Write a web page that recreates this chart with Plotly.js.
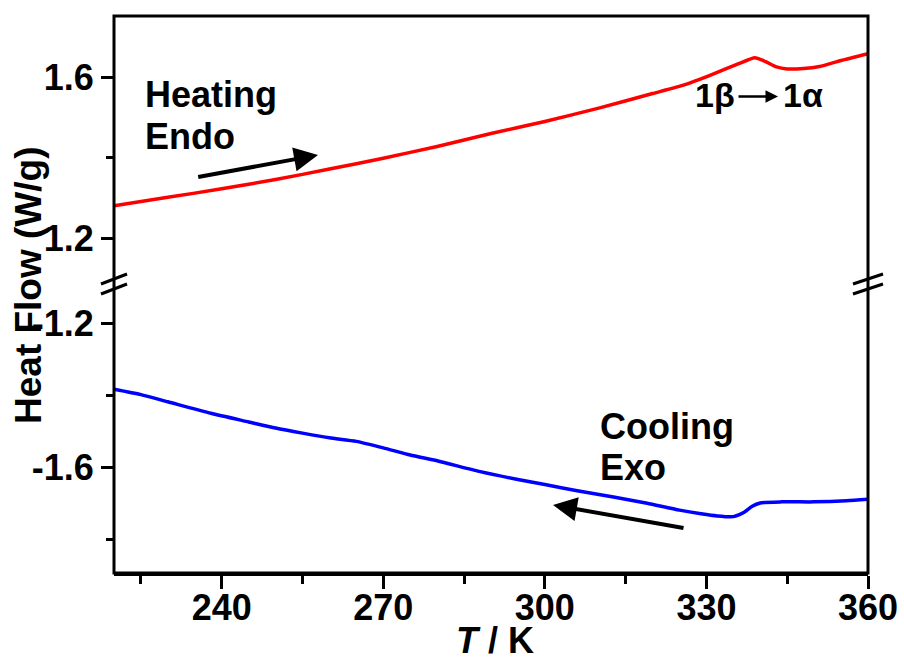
<!DOCTYPE html>
<html>
<head>
<meta charset="utf-8">
<script src="https://cdn.plot.ly/plotly-3.0.1.min.js"></script>
<style>html,body{margin:0;padding:0;background:#fff;}#chart{width:904px;height:661px;}</style>
</head>
<body>
<div id="chart"></div>
<script>
// Heating (top panel, red)
const heatT = [220, 230, 240, 250, 260, 270, 280, 290, 300, 310, 320, 326, 331, 336, 339, 341, 343, 345, 348, 351, 355, 360];
const heatFlow = [1.281, 1.302, 1.323, 1.346, 1.372, 1.399, 1.428, 1.460, 1.490, 1.523, 1.559, 1.581, 1.606, 1.633, 1.648, 1.638, 1.625, 1.620, 1.621, 1.626, 1.641, 1.658];
// Cooling (bottom panel, blue)
const coolT = [220, 225, 230, 238, 245, 250, 255, 260, 265, 270, 275, 280, 288, 295, 300, 306, 313, 319, 325, 329, 332, 335, 337, 338.5, 340, 344, 350, 356, 360];
const coolFlow = [-1.383, -1.398, -1.418, -1.450, -1.474, -1.491, -1.505, -1.518, -1.528, -1.546, -1.566, -1.582, -1.612, -1.634, -1.648, -1.665, -1.683, -1.700, -1.719, -1.729, -1.735, -1.737, -1.725, -1.708, -1.699, -1.696, -1.696, -1.693, -1.689];

const xTickVals = [240, 270, 300, 330, 360];
const xTickText = ['240', '270', '300', '330', '360'];
const topTickVals = [1.2, 1.6];
const topTickText = ['1.2', '1.6'];
const botTickVals = [-1.6, -1.2];
const botTickText = ['-1.6', '-1.2'];

const FAM = 'Liberation Sans, Arial, sans-serif';
const W = 904, H = 661, L = 114, R = 868, T = 16, B = 573;
const px = v => (v - L) / (R - L);
const py = v => (B - v) / (B - T);
const splitFrac = 291 / 557;

const traces = [
  {x: heatT, y: heatFlow, xaxis: 'x', yaxis: 'y2', mode: 'lines', line: {color: '#ff0000', width: 3.5, shape: 'spline', smoothing: 0.6}, hoverinfo: 'skip'},
  {x: coolT, y: coolFlow, xaxis: 'x', yaxis: 'y', mode: 'lines', line: {color: '#0000ff', width: 3.5, shape: 'spline', smoothing: 0.6}, hoverinfo: 'skip'}
];

const tickFont = {family: FAM, size: 36, color: '#000', weight: 'bold'};
const annFont = {family: FAM, size: 36, color: '#000', weight: 'bold'};

const layout = {
  width: W, height: H,
  margin: {l: L, r: W - R, t: T, b: H - B, pad: 0},
  paper_bgcolor: '#fff', plot_bgcolor: '#fff',
  showlegend: false,
  xaxis: {
    range: [220, 360], tickmode: 'array', tickvals: xTickVals, ticktext: xTickText,
    ticks: 'outside', ticklen: 13, tickwidth: 3, tickcolor: '#000', ticklabelstandoff: -12, ticklabeloverflow: 'allow',
    minor: {dtick: 15, tick0: 225, ticks: 'outside', ticklen: 8, tickwidth: 3, tickcolor: '#000'},
    showline: true, linewidth: 3, linecolor: '#000', showgrid: false, zeroline: false,
    tickfont: tickFont, anchor: 'y'
  },
  yaxis: {
    domain: [0, splitFrac], range: [-1.8936, -1.0853],
    tickmode: 'array', tickvals: botTickVals, ticktext: botTickText,
    ticks: 'outside', ticklen: 12, tickwidth: 3, tickcolor: '#000',
    minor: {tickmode: 'array', tickvals: [-1.8, -1.4], ticks: 'outside', ticklen: 7, tickwidth: 3, tickcolor: '#000'},
    showline: false, showgrid: false, zeroline: false, tickfont: tickFont, anchor: 'x'
  },
  yaxis2: {
    domain: [splitFrac, 1], range: [1.0923, 1.7511],
    tickmode: 'array', tickvals: topTickVals, ticktext: topTickText,
    ticks: 'outside', ticklen: 12, tickwidth: 3, tickcolor: '#000',
    minor: {tickmode: 'array', tickvals: [1.4], ticks: 'outside', ticklen: 7, tickwidth: 3, tickcolor: '#000'},
    showline: false, showgrid: false, zeroline: false, tickfont: tickFont, anchor: 'x'
  },
  shapes: [
    {type: 'rect', xref: 'paper', yref: 'paper', x0: 0, x1: 1, y0: 0, y1: 1, line: {color: '#000', width: 3}, layer: 'above'},
    {type: 'line', xref: 'paper', yref: 'paper', x0: px(101), x1: px(127), y0: py(284), y1: py(274), line: {color: '#000', width: 3}},
    {type: 'line', xref: 'paper', yref: 'paper', x0: px(101), x1: px(127), y0: py(294), y1: py(284), line: {color: '#000', width: 3}},
    {type: 'line', xref: 'paper', yref: 'paper', x0: px(853), x1: px(883), y0: py(284), y1: py(274), line: {color: '#000', width: 3}},
    {type: 'line', xref: 'paper', yref: 'paper', x0: px(853), x1: px(883), y0: py(294), y1: py(284), line: {color: '#000', width: 3}}
  ],
  annotations: [
    {xref: 'paper', yref: 'paper', x: px(28), y: py(286), text: 'Heat Flow (W/g)', textangle: -90, showarrow: false, xanchor: 'center', yanchor: 'middle', font: {family: FAM, size: 37, color: '#000', weight: 'bold'}},
    {xref: 'paper', yref: 'paper', x: px(495), y: py(640), text: '<i>T</i> / K', showarrow: false, xanchor: 'center', yanchor: 'middle', font: annFont},
    {xref: 'paper', yref: 'paper', x: px(143), y: py(94.5), text: 'Heating', showarrow: false, xanchor: 'left', yanchor: 'middle', font: annFont},
    {xref: 'paper', yref: 'paper', x: px(143), y: py(136), text: 'Endo', showarrow: false, xanchor: 'left', yanchor: 'middle', font: annFont},
    {xref: 'paper', yref: 'paper', x: px(598), y: py(426), text: 'Cooling', showarrow: false, xanchor: 'left', yanchor: 'middle', font: annFont},
    {xref: 'paper', yref: 'paper', x: px(598), y: py(467), text: 'Exo', showarrow: false, xanchor: 'left', yanchor: 'middle', font: annFont},
    {xref: 'paper', yref: 'paper', x: px(693), y: py(95), text: '1β', showarrow: false, xanchor: 'left', yanchor: 'middle', font: {family: FAM, size: 34, color: '#000', weight: 'bold'}},
    {xref: 'paper', yref: 'paper', x: px(781), y: py(95), text: '1α', showarrow: false, xanchor: 'left', yanchor: 'middle', font: {family: FAM, size: 34, color: '#000', weight: 'bold'}},
    {xref: 'paper', yref: 'paper', x: px(318), y: py(155), ax: 196.7 - 318, ay: 177.3 - 155, text: '', showarrow: true, arrowhead: 2, arrowsize: 1.2, arrowwidth: 4, arrowcolor: '#000', standoff: 0},
    {xref: 'paper', yref: 'paper', x: px(553), y: py(505), ax: 685 - 553, ay: 528.3 - 505, text: '', showarrow: true, arrowhead: 2, arrowsize: 1.2, arrowwidth: 4, arrowcolor: '#000', standoff: 0},
    {xref: 'paper', yref: 'paper', x: px(778), y: py(96.5), ax: -41, ay: 0, text: '', showarrow: true, arrowhead: 2, arrowsize: 1, arrowwidth: 2.5, arrowcolor: '#000', standoff: 0}
  ]
};

Plotly.newPlot('chart', traces, layout, {displayModeBar: false, staticPlot: true});
</script>
</body>
</html>
